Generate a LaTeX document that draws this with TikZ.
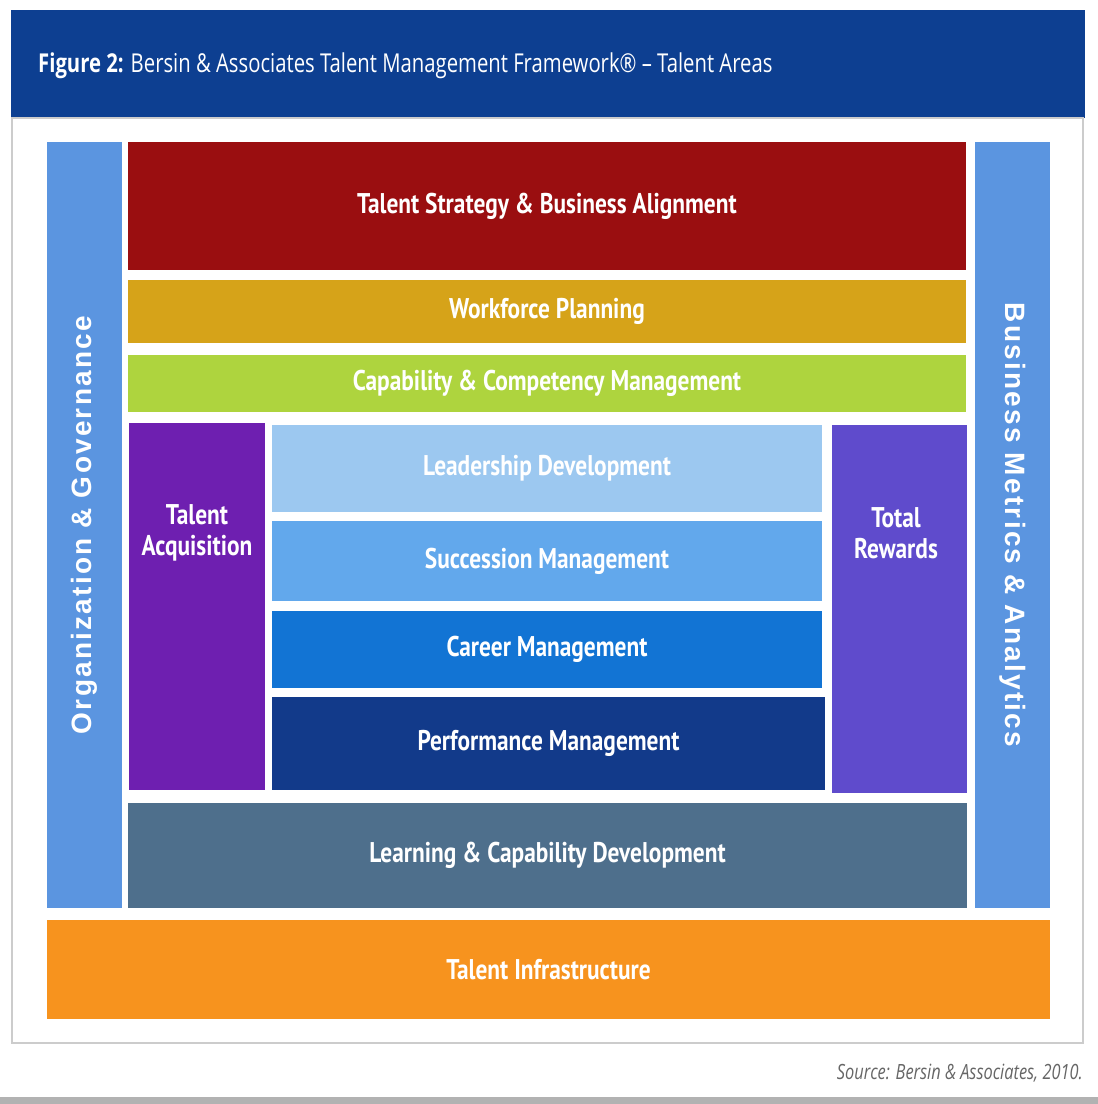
\documentclass[tikz,border=0pt]{standalone}
\usepackage{fontspec}
\setmainfont{PT Sans}
\newfontfamily\boxfont[FakeStretch=0.82]{PT Sans}
\newfontfamily\titlefont[FakeStretch=0.78]{Open Sans}
\newfontfamily\sidefont[LetterSpace=8]{Liberation Sans}

\definecolor{headblue}{HTML}{0D3F91}
\definecolor{sideblue}{HTML}{5B95E0}
\definecolor{stratred}{HTML}{9A0E10}
\definecolor{plangold}{HTML}{D6A319}
\definecolor{capgreen}{HTML}{AED43E}
\definecolor{acqpurple}{HTML}{6E1FB0}
\definecolor{leadblue}{HTML}{9CC8F0}
\definecolor{succblue}{HTML}{62A8EC}
\definecolor{careerblue}{HTML}{1274D4}
\definecolor{perfblue}{HTML}{123A8A}
\definecolor{rewardviolet}{HTML}{5F4BCC}
\definecolor{learnslate}{HTML}{4E6F8C}
\definecolor{infraorange}{HTML}{F7931E}

\begin{document}
\begin{tikzpicture}[x=1pt, y=-1pt,
		area/.style={rectangle, inner sep=0pt, text=white, font=\boxfont\fontsize{28.5}{31}\selectfont\bfseries, align=center},
		side/.style={rectangle, inner sep=0pt, text=white, font=\sidefont\fontsize{28}{30}\selectfont\bfseries}]
				\useasboundingbox (0,0) rectangle (1098,1104);
				\fill[white] (0,0) rectangle (1098,1104);

				% Header
				\node[rectangle, minimum width=1074pt, minimum height=108pt, fill=headblue] (header) at (548,64) {};
				\node[anchor=west, inner sep=0pt, text=white, font=\titlefont\fontsize{26}{28}\selectfont] (title) at (38,66) {\textbf{Figure 2:} Bersin \& Associates Talent Management Framework® – Talent Areas};

				% Frame
				\node[draw=gray!40, line width=1.5pt, rectangle, minimum width=1071pt, minimum height=925pt] (frame) at (547.5,580.5) {};

				% Side columns
				\node[area, minimum width=75pt, minimum height=766pt, fill=sideblue] (orggov) at (84.5,525) {};
				\node[side, rotate=90] (orggovlabel) at (orggov) {Organization \& Governance};
				\node[area, minimum width=75pt, minimum height=766pt, fill=sideblue] (metrics) at (1012.5,525) {};
				\node[side, rotate=-90] (metricslabel) at (metrics) {Business Metrics \& Analytics};

				% Top bands
				\node[area, minimum width=838pt, minimum height=128pt, fill=stratred] (strategy) at (547,206) {Talent Strategy \& Business Alignment};
				\node[area, minimum width=838pt, minimum height=63pt, fill=plangold] (workforce) at (547,311.5) {Workforce Planning};
				\node[area, minimum width=838pt, minimum height=57pt, fill=capgreen] (capability) at (547,383.5) {Capability \& Competency Management};

				% Middle block
				\node[area, minimum width=136pt, minimum height=367pt, fill=acqpurple] (acquisition) at (197,606.5) {};
				\node[area] (acquisitionlabel) at (197,533) {Talent\\Acquisition};
				\node[area, minimum width=550pt, minimum height=87pt, fill=leadblue] (leadership) at (547,468.5) {Leadership Development};
				\node[area, minimum width=550pt, minimum height=80pt, fill=succblue] (succession) at (547,561) {Succession Management};
				\node[area, minimum width=550pt, minimum height=77pt, fill=careerblue] (career) at (547,649.5) {Career Management};
				\node[area, minimum width=553pt, minimum height=93pt, fill=perfblue] (performance) at (548.5,743.5) {Performance Management};
				\node[area, minimum width=135pt, minimum height=368pt, fill=rewardviolet] (rewards) at (899.5,609) {};
				\node[area] (rewardslabel) at (896,533) {Total\\Rewards};

				% Bottom bands
				\node[area, minimum width=839pt, minimum height=105pt, fill=learnslate] (learning) at (547.5,855.5) {Learning \& Capability Development};
				\node[area, minimum width=1003pt, minimum height=99pt, fill=infraorange] (infra) at (548.5,969.5) {Talent Infrastructure};

				% Source
				\node[anchor=east, inner sep=0pt, text=gray!80!black, font=\titlefont\fontsize{21}{23}\selectfont\itshape] (source) at (1083,1073) {Source: Bersin \& Associates, 2010.};
				\fill[gray!60] (0,1097) rectangle (1098,1104);
			\end{tikzpicture}
\end{document}
